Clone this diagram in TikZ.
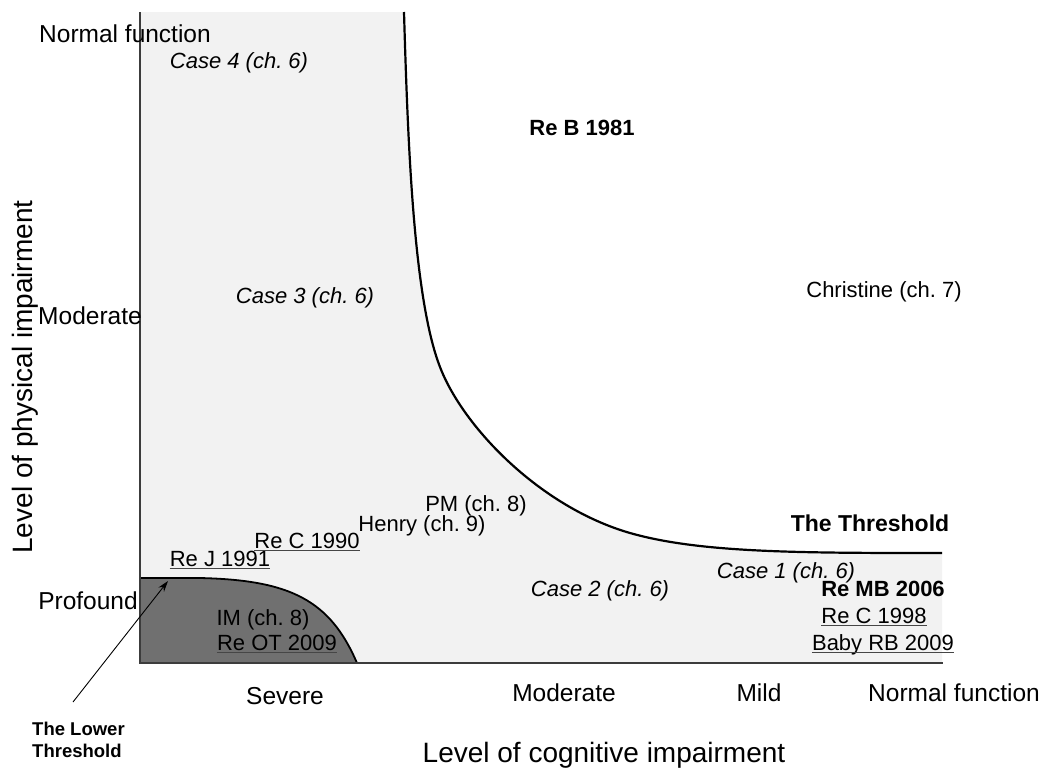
\documentclass[tikz,border=0pt]{standalone}
\usepackage{fontspec}
\setmainfont{Liberation Sans}
\usetikzlibrary{arrows.meta}
\definecolor{lightfill}{RGB}{242,242,242}
\definecolor{darkfill}{RGB}{112,112,112}
\definecolor{axiscol}{RGB}{60,60,60}
\definecolor{ulcol}{RGB}{70,70,70}
\frenchspacing
\begin{document}
\frenchspacing
\begin{tikzpicture}[x=1pt,y=-1pt,
  lbl/.style={inner sep=0pt, anchor=base, font=\fontsize{22}{26}\selectfont},
  cs/.style={inner sep=0pt, anchor=base, font=\fontsize{22}{26}\selectfont\itshape},
  bd/.style={inner sep=0pt, anchor=base, font=\fontsize{22}{26}\selectfont\bfseries},
  ax/.style={inner sep=0pt, anchor=base, font=\fontsize{24.5}{28}\selectfont},
  title/.style={inner sep=0pt, anchor=base, font=\fontsize{28}{32}\selectfont},
  ulline/.style={draw=ulcol, line width=1.7pt},
  axisline/.style={draw=axiscol, line width=1.4pt},
  curve/.style={draw=black, line width=2.2pt},
  lowcurve/.style={draw=black, line width=1.8pt},
  pointer/.style={draw=black, line width=0.9pt, -{Stealth[length=11pt,width=7pt]}}
]
\useasboundingbox (0,0) rectangle (1046,769);

% light region (left of and below the threshold)
\fill[lightfill] (140,12) -- (404,12)
  .. controls (408,150) and (414,300) .. (440,367)
  .. controls (463,427) and (540,507) .. (630,533)
  .. controls (700,553) and (800,553) .. (942,553)
  -- (942,663) -- (140,663) -- cycle;

% lower threshold region
\fill[darkfill] (140,578) -- (200,578) .. controls (290,580) and (330,600) .. (357,663) -- (140,663) -- cycle;
\draw[lowcurve] (140,578) -- (200,578) .. controls (290,580) and (330,600) .. (357,663);

% threshold curve
\draw[curve] (404,12)
  .. controls (408,150) and (414,300) .. (440,367)
  .. controls (463,427) and (540,507) .. (630,533)
  .. controls (700,553) and (800,553) .. (942,553);

% axes
\draw[axisline] (140,12) -- (140,663) -- (943,663);

% y-axis labels
\node[ax] (ynorm) at (125,42) {Normal function};
\node[ax] (ymod) at (90,324) {Moderate};
\node[ax] (yprof) at (88,609) {Profound};
\node[title, rotate=90] (ytitle) at (32,377) {Level of physical impairment};

% x-axis labels
\node[ax] (xsev) at (285,704) {Severe};
\node[ax] (xmod) at (564,701) {Moderate};
\node[ax] (xmild) at (759,701) {Mild};
\node[ax] (xnorm) at (954,701) {Normal function};
\node[title] (xtitle) at (604,762) {Level of cognitive impairment};

% cases
\node[cs] (case4) at (239,68) {Case 4 (ch. 6)};
\node[cs] (case3) at (305,303) {Case 3 (ch. 6)};
\node[cs] (case1) at (786,578) {Case 1 (ch. 6)};
\node[cs] (case2) at (600,596) {Case 2 (ch. 6)};

\node[bd] (reb) at (582,135) {Re B 1981};
\node[lbl] (christine) at (884,297) {Christine (ch. 7)};
\node[lbl] (pm) at (476,511) {PM (ch. 8)};
\node[lbl] (henry) at (422,531) {Henry (ch. 9)};
\node[bd, font=\fontsize{23}{27}\selectfont\bfseries] (thr) at (870,531) {The Threshold};
\node[bd] (remb) at (883,596) {Re MB 2006};
\node[lbl] (im) at (263,625) {IM (ch. 8)};

% underlined cases
\node[lbl] (rec90) at (307,548) {Re C 1990};
\node[lbl] (rej91) at (220,566) {Re J 1991};
\node[lbl] (reot) at (277,650) {Re OT 2009};
\node[lbl] (rec98) at (874,623) {Re C 1998};
\node[lbl] (baby) at (883,650) {Baby RB 2009};
\foreach \n in {rec90,rej91,reot,rec98,baby}
  \draw[ulline] ([yshift=-2.5pt]\n.base west) -- ([yshift=-2.5pt]\n.base east);

% lower threshold label and pointer
\node[inner sep=0pt, anchor=base west, align=left, font=\fontsize{18.5}{22}\selectfont\bfseries] (lower) at (32,757) {The Lower\\Threshold};
\coordinate (lowtail) at (73,702);
\coordinate (lowtip) at (168,581);
\draw[pointer] (lowtail) -- (lowtip);
\end{tikzpicture}
\end{document}
